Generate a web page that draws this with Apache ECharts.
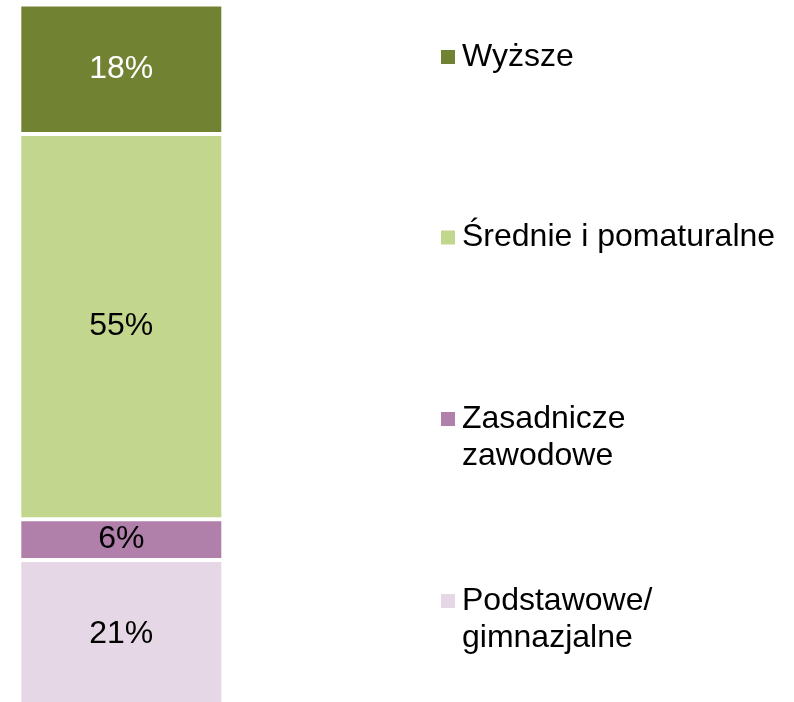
<!DOCTYPE html>
<html>
<head>
<meta charset="utf-8">
<script src="https://cdn.jsdelivr.net/npm/echarts@6/dist/echarts.min.js"></script>
<style>
  html, body { margin: 0; padding: 0; background: #fff; }
  #chart { width: 794px; height: 702px; }
</style>
</head>
<body>
<div id="chart"></div>
<script>
// stacked from the bottom up; labels show rounded values
const seriesNames = ['Podstawowe/gimnazjalne', 'Zasadnicze zawodowe', 'Średnie i pomaturalne', 'Wyższe']
const seriesValues = [21.0, 5.8, 54.8, 18.4]
const seriesColors = ['#E5D7E5', '#B07FAA', '#C3D68D', '#718333']
const labelColors = ['#000', '#000', '#000', '#fff']
const legendLines = {
    'Podstawowe/gimnazjalne': 'Podstawowe/\ngimnazjalne',
    'Zasadnicze zawodowe': 'Zasadnicze\nzawodowe',
    'Średnie i pomaturalne': 'Średnie i pomaturalne',
    'Wyższe': 'Wyższe'
}
// icon centre y of each legend entry
const legendCenters = {
    'Wyższe': 57,
    'Średnie i pomaturalne': 237.5,
    'Zasadnicze zawodowe': 419,
    'Podstawowe/gimnazjalne': 601
}

const FONT = '"Liberation Sans", Arial, sans-serif'
const LINE_H = 37

let myChart = echarts.init(document.getElementById('chart'))

let series = seriesNames.map((name, i) => ({
    name: name,
    type: 'bar',
    stack: 'total',
    barWidth: '100%',
    clip: false,
    data: [seriesValues[i]],
    itemStyle: {color: seriesColors[i], borderColor: '#fff', borderWidth: 2},
    label: {
        show: true,
        position: 'inside',
        formatter: p => Math.round(p.value) + '%',
        color: labelColors[i],
        fontSize: 32,
        fontFamily: FONT
    },
    emphasis: {disabled: true}
}))

let legends = seriesNames.map(name => {
    let twoLines = legendLines[name].indexOf('\n') >= 0
    // a blank line on top keeps the icon level with the first text line
    let boxH = twoLines ? LINE_H * 3 : LINE_H
    return {
        data: [name],
        left: 441,
        top: legendCenters[name] - boxH / 2,
        padding: 0,
        orient: 'vertical',
        icon: 'rect',
        itemWidth: 14,
        itemHeight: 14,
        itemStyle: {borderWidth: 0},
        formatter: n => twoLines ? '\n' + legendLines[n] : legendLines[n],
        textStyle: {
            fontSize: 32,
            fontFamily: FONT,
            color: '#000',
            lineHeight: LINE_H,
            padding: [0, 0, 0, 2]
        },
        selectedMode: false
    }
})

// the bar runs a little past the bottom edge of the picture
myChart.setOption({
    animation: false,
    grid: {left: 19.3, width: 204, top: 4.6, height: 703, outerBoundsMode: 'none'},
    xAxis: {type: 'category', data: [''], show: false},
    yAxis: {type: 'value', min: 0, max: 100, show: false},
    legend: legends,
    series: series
})
</script>
</body>
</html>
